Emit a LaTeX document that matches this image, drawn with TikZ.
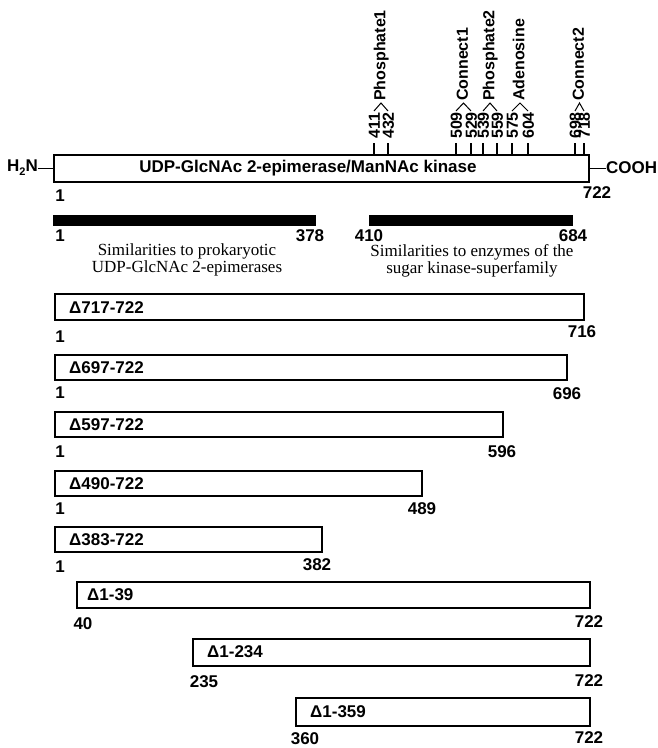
\documentclass[tikz,border=0pt]{standalone}
\usepackage{fontspec}
\setmainfont{Liberation Sans}
\newfontfamily\serfont{Liberation Serif}
\begin{document}
\begin{tikzpicture}[x=1pt,y=-1pt,
  box/.style={draw, line width=1.5pt, fill=white, inner sep=0pt, outer sep=0pt, anchor=north west},
  blackbar/.style={draw, fill=black, inner sep=0pt, outer sep=0pt, anchor=north west},
  lbl/.style={font=\fontsize{17}{17}\selectfont\bfseries, inner sep=0pt},
  rnum/.style={font=\fontsize{16}{16}\selectfont\bfseries, rotate=90, anchor=west, inner sep=0pt, text height=11.5pt, text depth=0pt},
  rname/.style={font=\fontsize{16}{16}\selectfont\bfseries, rotate=90, anchor=west, inner sep=0pt, text height=11.5pt, text depth=3pt},
  stxt/.style={font=\serfont\fontsize{17}{16.5}\selectfont, align=center, inner sep=0pt},
  tick/.style={line width=1.1pt},
  brk/.style={line width=1pt}]
\useasboundingbox (0,0) rectangle (658,748);

% main bar
\node[box, minimum width=535pt, minimum height=27pt] (main) at (54,155) {};
\node[lbl] (mainlbl) at (308,168) {UDP-GlcNAc 2-epimerase/ManNAc kinase};
\node[lbl, anchor=east] (h2n) at (38,168) {H{\fontsize{11}{11}\selectfont\raisebox{-4pt}{2}}N};
\node[lbl, anchor=west] (cooh) at (606,168) {COOH};
\draw[tick] (h2n.east |- main.west) -- (main.west);
\draw[tick] (main.east) -- (cooh.west |- main.east);
\node[lbl] (m1) at (60,196) {1};
\node[lbl] (m722) at (597,193) {722};

% ticks and site labels
\foreach \xx/\nn in {374/411,388/432,456/509,471/529,483/539,497/559,512/575,528/604,575/698,584/718}{
  \draw[tick] (\xx,143) -- (\xx,155);
  \node[rnum] (n\nn) at (\xx,139) {\nn};
}
\foreach \xa/\xb/\name in {374/388/Phosphate1,456/471/Connect1,483/497/Phosphate2,512/528/Adenosine,575/584/Connect2}{
  \pgfmathsetmacro{\xm}{(\xa+\xb)/2}
  \draw[brk] (\xa,111) -- (\xm,103) -- (\xb,111);
  \node[rname] (s\name) at (\xm,101) {\name};
}

% similarity bars
\node[blackbar, minimum width=262pt, minimum height=10pt] (sim1) at (53,215) {};
\node[blackbar, minimum width=203pt, minimum height=10pt] (sim2) at (369,215) {};
\node[lbl] (s1a) at (60,236) {1};
\node[lbl] (s1b) at (310,236) {378};
\node[lbl] (s2a) at (369,236) {410};
\node[lbl] (s2b) at (573,236) {684};
\node[stxt] (t1) at (187,260) {Similarities to prokaryotic\\UDP-GlcNAc 2-epimerases};
\node[stxt] (t2) at (472,261) {Similarities to enzymes of the\\sugar kinase-superfamily};

% deletion constructs
\node[box, minimum width=529pt, minimum height=26pt] (d1) at (55,294) {};
\node[lbl, anchor=west] (d1l) at (69,308) {Δ717-722};
\node[lbl] (d1a) at (60,337) {1};
\node[lbl] (d1b) at (582,332) {716};

\node[box, minimum width=512pt, minimum height=25pt] (d2) at (55,355) {};
\node[lbl, anchor=west] (d2l) at (69,368) {Δ697-722};
\node[lbl] (d2a) at (60,393) {1};
\node[lbl] (d2b) at (567,394) {696};

\node[box, minimum width=448pt, minimum height=25pt] (d3) at (55,412) {};
\node[lbl, anchor=west] (d3l) at (69,425) {Δ597-722};
\node[lbl] (d3a) at (60,452) {1};
\node[lbl] (d3b) at (502,452) {596};

\node[box, minimum width=367pt, minimum height=25pt] (d4) at (55,471) {};
\node[lbl, anchor=west] (d4l) at (69,484) {Δ490-722};
\node[lbl] (d4a) at (60,509) {1};
\node[lbl] (d4b) at (422,509) {489};

\node[box, minimum width=267pt, minimum height=25pt] (d5) at (55,527) {};
\node[lbl, anchor=west] (d5l) at (69,540) {Δ383-722};
\node[lbl] (d5a) at (60,567) {1};
\node[lbl] (d5b) at (317,565) {382};

\node[box, minimum width=513pt, minimum height=26pt] (d6) at (77,582) {};
\node[lbl, anchor=west] (d6l) at (87,595) {Δ1-39};
\node[lbl] (d6a) at (83,624) {40};
\node[lbl] (d6b) at (589,622) {722};

\node[box, minimum width=397pt, minimum height=27pt] (d7) at (193,639) {};
\node[lbl, anchor=west] (d7l) at (207,652) {Δ1-234};
\node[lbl] (d7a) at (204,682) {235};
\node[lbl] (d7b) at (589,681) {722};

\node[box, minimum width=294pt, minimum height=28pt] (d8) at (296,698) {};
\node[lbl, anchor=west] (d8l) at (310,712) {Δ1-359};
\node[lbl] (d8a) at (305,739) {360};
\node[lbl] (d8b) at (589,738) {722};
\end{tikzpicture}
\end{document}
